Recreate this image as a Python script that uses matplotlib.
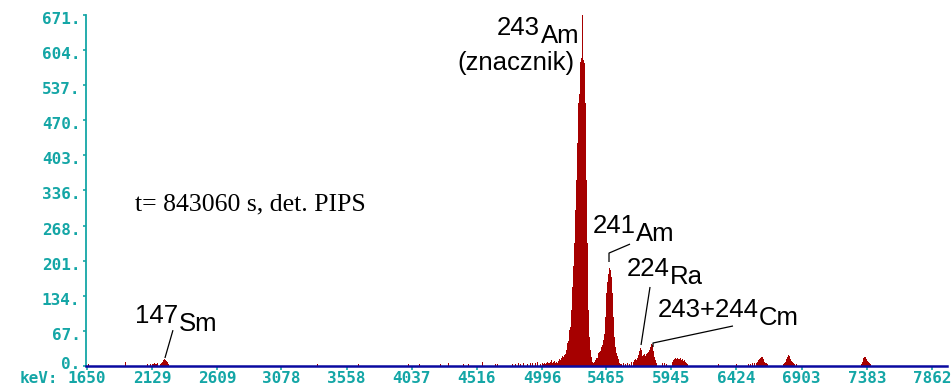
import matplotlib
matplotlib.use("Agg")
import matplotlib.pyplot as plt
import matplotlib.transforms as mtransforms
import numpy as np

# ---- energy calibration of the MCA (keV per channel) ----
E_START_KEV = 1650.0
E_END_KEV = 7862.0
N_CHANNELS = 845
GAIN = (E_END_KEV - E_START_KEV) / N_CHANNELS

# ---- axis labels ----
x_tick_values = [1650, 2129, 2609, 3078, 3558, 4037, 4516, 4996,
                 5465, 5945, 6424, 6903, 7383, 7862]
y_tick_values = [0, 67, 134, 201, 268, 336, 403, 470, 537, 604, 671]

# ---- spectrum: counts per channel ----
# isolated background channels
bg_channels = [1, 38, 60, 63, 65, 66, 67, 68, 69, 70, 230, 271, 321, 332,
               353, 361, 376, 381, 395, 408, 410, 425, 428, 431, 433, 436,
               440, 443, 445, 448, 450, 631, 649]
bg_counts = [3, 8, 4, 3, 4, 3, 5, 4, 4, 6, 4, 3, 4, 3,
             4, 6, 4, 4, 8, 4, 3, 4, 3, 5, 4, 5,
             4, 5, 6, 5, 7, 4, 4]

# 147Sm
sm147_start = 73
sm147_counts = [4, 6, 8, 10, 12, 11, 9, 7, 4]

# 243Am (tracer) with its low-energy tail
am243_start = 453
am243_counts = [4, 0, 5, 3, 6, 4, 5, 7, 5, 6, 8, 11, 6, 7, 9,
                6, 8, 5, 9, 12, 10, 14, 18, 16, 20, 22, 30, 43, 48, 68,
                75, 107, 151, 190, 234, 298, 355, 426, 503, 520, 582, 588,
                671, 585, 580, 503, 355, 234, 107, 55, 30, 17, 8, 5, 8]

# 241Am
am241_start = 508
am241_counts = [10, 14, 15, 24, 26, 28, 36, 40, 50, 60, 94, 139, 160,
                175, 186, 184, 170, 139, 94, 55, 36, 24, 18, 12, 6, 4]

# 224Ra and 243+244Cm
ra_cm_start = 534
ra_cm_counts = [3, 0, 5, 0, 3, 0, 6, 0, 4, 0, 7, 0, 8, 10, 12, 10, 14, 20,
                28, 34, 30, 18, 20, 22, 18, 22, 24, 26, 30, 36, 42, 40, 28,
                16, 10, 5]

# region above 5.9 MeV
tail_start = 575
tail_counts = [5, 0, 6, 0, 4, 0, 0, 0, 0, 0, 8, 10, 12, 14, 12, 15, 13, 12,
               14, 10, 12, 9, 11, 8, 6, 4]

# high-energy groups
peak_a_start = 661
peak_a_counts = [3, 0, 4, 0, 5, 0, 5, 0, 6, 8, 10, 12, 15, 17, 16, 12, 8,
                 6, 5, 3]
peak_b_start = 696
peak_b_counts = [4, 6, 8, 12, 17, 20, 18, 12, 9, 7, 5, 3, 0, 3]
peak_c_start = 774
peak_c_counts = [4, 8, 14, 17, 16, 12, 9, 7, 5, 3]

# ---- assemble the channel array ----
counts = np.zeros(N_CHANNELS + 20)
counts[bg_channels] = bg_counts
for start, seg in [(sm147_start, sm147_counts), (am243_start, am243_counts),
                   (am241_start, am241_counts), (ra_cm_start, ra_cm_counts),
                   (tail_start, tail_counts), (peak_a_start, peak_a_counts),
                   (peak_b_start, peak_b_counts), (peak_c_start, peak_c_counts)]:
    counts[start:start + len(seg)] = seg
channels = np.arange(len(counts))
nz = counts > 0
energy = E_START_KEV + channels * GAIN

# ---- styling ----
TEAL = "#14a6a6"
BAR = "#a60000"
NAVY = "#0a0aa0"
LABEL_FONT = ["Liberation Sans", "DejaVu Sans"]
FS = 18.5

fig = plt.figure(figsize=(9.53, 3.87), dpi=100)
ax = fig.add_axes([86 / 953, 21.3 / 387, 861 / 953, 350.7 / 387])

ax.bar(energy[nz], counts[nz], width=GAIN, align="edge", color=BAR,
       linewidth=0, antialiased=False, zorder=2)

ax.set_xlim(E_START_KEV - GAIN, E_END_KEV + 15 * GAIN)
ax.set_ylim(0, 671)

for s in ("top", "right"):
    ax.spines[s].set_visible(False)
ax.spines["left"].set_color(TEAL)
ax.spines["left"].set_linewidth(1.3)
ax.spines["bottom"].set_color(NAVY)
ax.spines["bottom"].set_linewidth(1.8)
ax.spines["bottom"].set_zorder(3)

tick_font = dict(family="DejaVu Sans Mono", weight="bold", size=11.5)
ax.set_xticks(x_tick_values)
ax.set_xticklabels([str(v) for v in x_tick_values], color=TEAL, **tick_font)
ax.set_yticks(y_tick_values)
ax.set_yticklabels([f"{v}." for v in y_tick_values], color=TEAL, **tick_font)
ax.tick_params(axis="x", direction="out", length=3.0, width=1.2,
               color=TEAL, pad=0.5)
ax.tick_params(axis="y", direction="out", length=2.5, width=1.2,
               color=TEAL, pad=1.5)

# the value labels sit a little below their tick marks; the zero is
# lifted slightly so it clears the energy labels underneath
shift = mtransforms.ScaledTranslation(0, -3 / 100, fig.dpi_scale_trans)
lift = mtransforms.ScaledTranslation(0, 2.5 / 100, fig.dpi_scale_trans)
ylabels = ax.get_yticklabels()
ylabels[0].set_transform(ylabels[0].get_transform() + lift)
for lab in ylabels[1:]:
    lab.set_transform(lab.get_transform() + shift)

ax.annotate("keV:", xy=(E_START_KEV, 0), xycoords="data",
            xytext=(-21, -3.5), textcoords="offset points",
            ha="right", va="top", color=TEAL, **tick_font)


def isotope(x, y, mass, symbol):
    t = ax.text(x, y, mass, fontsize=FS, family=LABEL_FONT,
                ha="left", va="baseline", color="black")
    ax.annotate(symbol, xy=(1, 0), xycoords=t, xytext=(0.5, -5.8),
                textcoords="offset points", ha="left", va="bottom",
                fontsize=FS, family=LABEL_FONT, color="black")
    return t


def leader(xs, ys):
    ax.plot(xs, ys, color="black", lw=0.9, solid_capstyle="butt", zorder=4)


# 243Am tracer
isotope(4664, 632.7, "243", "Am")
ax.text(5236, 566, "(znacznik)", fontsize=FS, family=LABEL_FONT,
        ha="right", va="baseline", color="black")

# 241Am
isotope(5365, 253.9, "241", "Am")
leader([5642, 5487.5, 5487.5], [232.7, 215.5, 198.4])

# 224Ra
isotope(5615, 171.5, "224", "Ra")
leader([5789, 5723], [150.6, 39.6])

# 243+244Cm
isotope(5843, 93.3, "243+244", "Cm")
leader([6399, 5811, 5811], [76, 43.4, 35.8])

# 147Sm
isotope(2005, 81.7, "147", "Sm")
leader([2282, 2223], [68, 14.7])

ax.text(2003, 297.9, "t= 843060 s, det. PIPS", fontsize=18.5,
        family=["Liberation Serif", "DejaVu Serif"], ha="left",
        va="baseline", color="black")

fig.savefig("out.png", dpi=100)
